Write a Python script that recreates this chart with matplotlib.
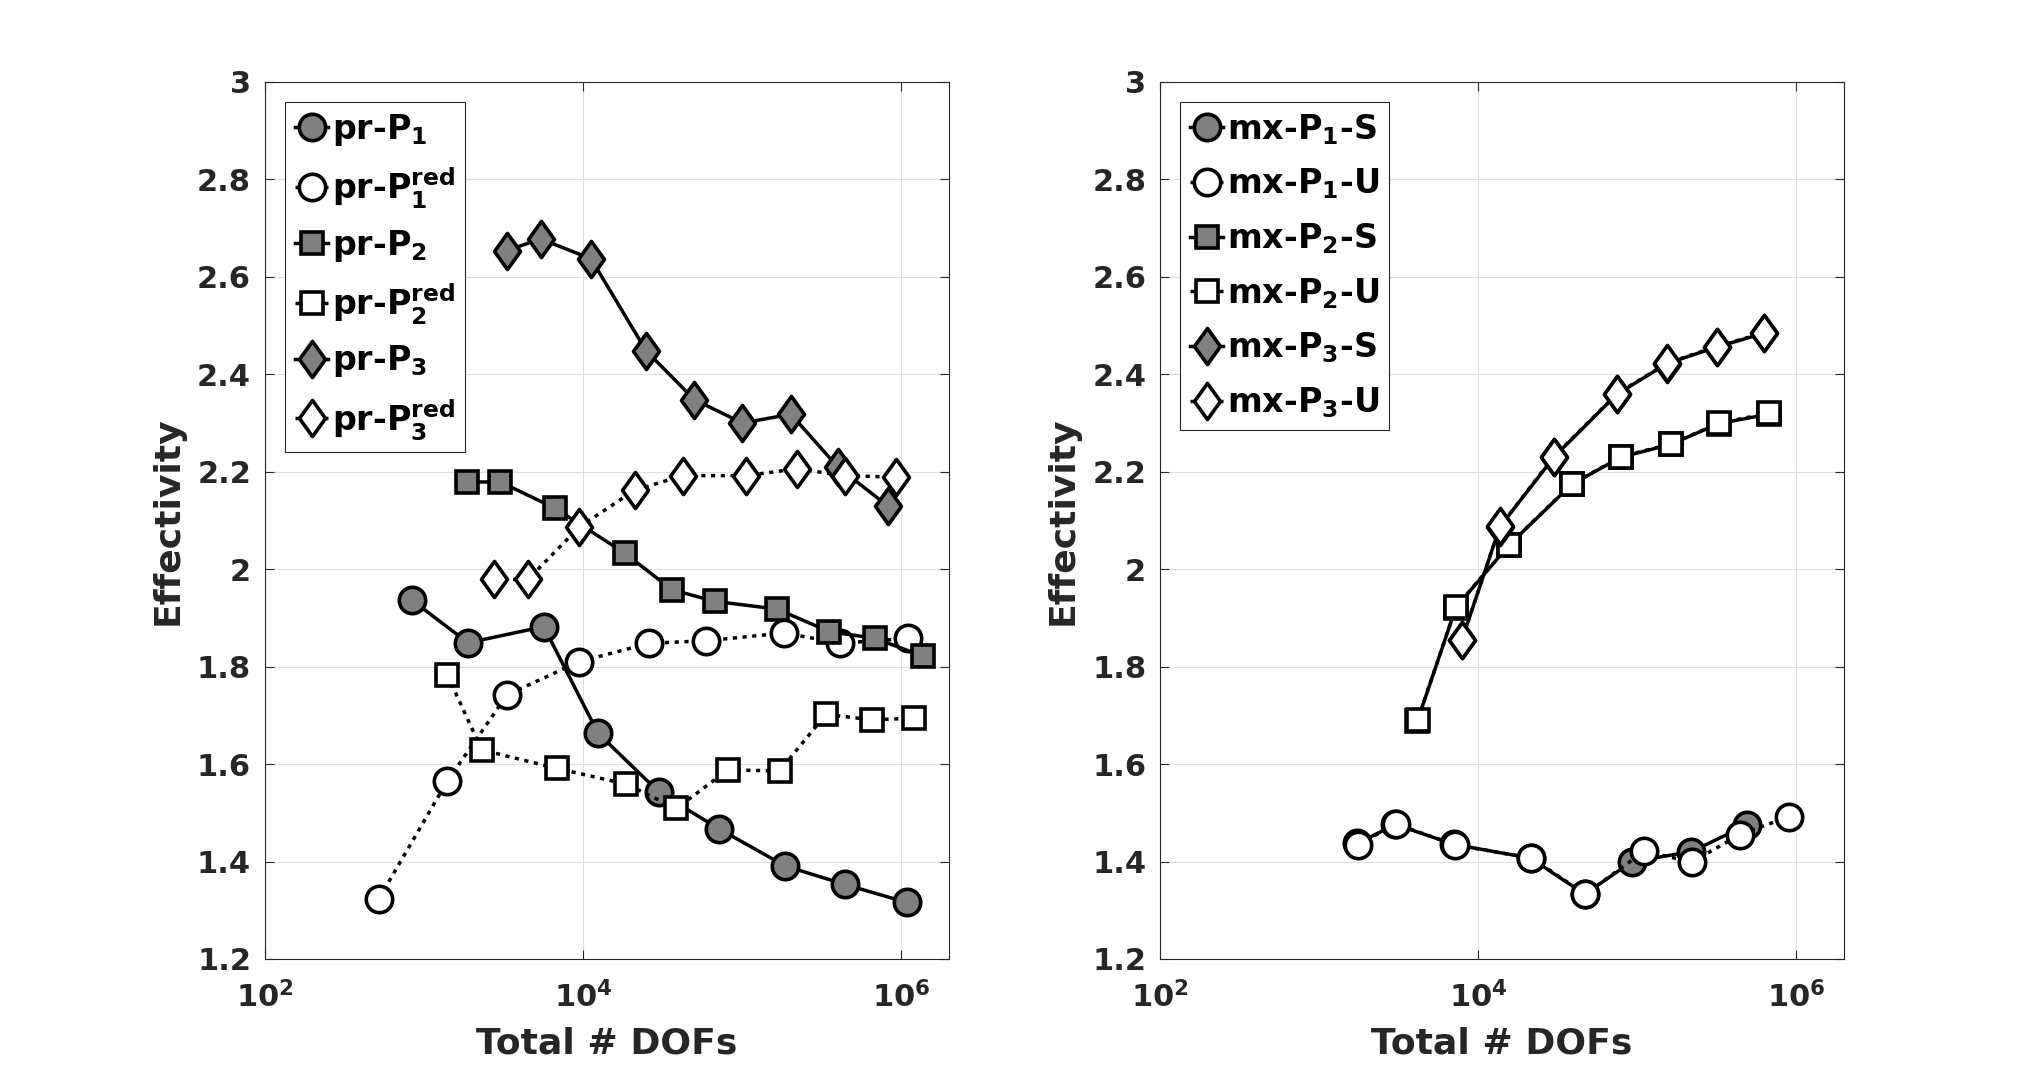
import numpy as np
import matplotlib
matplotlib.use('Agg')
import matplotlib.pyplot as plt
from matplotlib.path import Path

matplotlib.rcParams['font.family'] = 'DejaVu Sans'
matplotlib.rcParams['font.weight'] = 'bold'
matplotlib.rcParams['mathtext.default'] = 'bf'

# ---- data ----
# left panel: primal methods
pr_p1_dofs = [845, 1892, 5675, 12470, 30200, 71800, 186600, 443600, 1089000]
pr_p1_eff = [1.936, 1.849, 1.882, 1.663, 1.542, 1.467, 1.391, 1.353, 1.316]
pr_p1red_dofs = [522, 1403, 3334, 9441, 26180, 59020, 184500, 415900, 1102000]
pr_p1red_eff = [1.324, 1.565, 1.742, 1.810, 1.848, 1.853, 1.869, 1.848, 1.858]
pr_p2_dofs = [1879, 3020, 6683, 18320, 36220, 67300, 167100, 353200, 690200, 1384000]
pr_p2_eff = [2.179, 2.179, 2.125, 2.033, 1.958, 1.934, 1.918, 1.872, 1.858, 1.821]
pr_p2red_dofs = [1403, 2312, 6902, 18660, 38730, 81660, 172600, 337300, 654600, 1216000]
pr_p2red_eff = [1.783, 1.629, 1.591, 1.559, 1.509, 1.588, 1.586, 1.702, 1.691, 1.694]
pr_p3_dofs = [3334, 5420, 11250, 25000, 50230, 100700, 203200, 402700, 833700]
pr_p3_eff = [2.654, 2.678, 2.637, 2.448, 2.348, 2.300, 2.318, 2.209, 2.129]
pr_p3red_dofs = [2742, 4519, 9441, 21130, 42660, 105900, 221300, 443600, 924700]
pr_p3red_eff = [1.979, 1.979, 2.086, 2.162, 2.192, 2.192, 2.206, 2.192, 2.189]

# right panel: mixed methods
mx_p1s_dofs = [1738, 3020, 7079, 21380, 46770, 93330, 218800, 489800]
mx_p1s_eff = [1.437, 1.476, 1.435, 1.407, 1.333, 1.400, 1.420, 1.475]
mx_p1u_dofs = [1750, 3041, 7178, 21680, 47320, 110900, 221300, 441600, 901600]
mx_p1u_eff = [1.434, 1.477, 1.434, 1.407, 1.333, 1.421, 1.399, 1.455, 1.492]
mx_p2s_dofs = [4160, 7250, 15600, 38800, 79400, 162500, 328000, 671000]
mx_p2s_eff = [1.689, 1.921, 2.049, 2.174, 2.230, 2.256, 2.299, 2.318]
mx_p2u_dofs = [4180, 7280, 15670, 38900, 79600, 162900, 328900, 673000]
mx_p2u_eff = [1.691, 1.923, 2.050, 2.175, 2.231, 2.257, 2.300, 2.320]
mx_p3s_dofs = [7900, 13720, 30000, 74600, 154400, 316000, 626000]
mx_p3s_eff = [1.854, 2.087, 2.230, 2.359, 2.422, 2.456, 2.484]
mx_p3u_dofs = [7910, 13740, 30000, 74650, 154500, 316200, 626600]
mx_p3u_eff = [1.855, 2.088, 2.231, 2.360, 2.423, 2.457, 2.485]

pr_labels = [r'pr-$P_1$', r'pr-$P_1^{red}$', r'pr-$P_2$', r'pr-$P_2^{red}$',
             r'pr-$P_3$', r'pr-$P_3^{red}$']
mx_labels = [r'mx-$P_1$-S', r'mx-$P_1$-U', r'mx-$P_2$-S', r'mx-$P_2$-U',
             r'mx-$P_3$-S', r'mx-$P_3$-U']

x_ticks = [1e2, 1e4, 1e6]
x_tick_labels = [r'$10^{2}$', r'$10^{4}$', r'$10^{6}$']
y_ticks = [1.2, 1.4, 1.6, 1.8, 2.0, 2.2, 2.4, 2.6, 2.8, 3.0]
y_tick_labels = ['1.2', '1.4', '1.6', '1.8', '2', '2.2', '2.4', '2.6', '2.8', '3']

# matlab-like diamond
diamond = Path([(0, 1), (0.72, 0), (0, -1), (-0.72, 0), (0, 1)],
               [Path.MOVETO, Path.LINETO, Path.LINETO, Path.LINETO, Path.CLOSEPOLY])

gray = '#808080'
dark = '#262626'
dotted = (0, (1.2, 1.6))
lw = 2.5
mew = 2.6

styles = [
    dict(marker='o', ms=19, mfc=gray, ls='-'),
    dict(marker='o', ms=19, mfc='white', ls=dotted),
    dict(marker='s', ms=16.5, mfc=gray, ls='-'),
    dict(marker='s', ms=16.5, mfc='white', ls=dotted),
    dict(marker=diamond, ms=26, mfc=gray, ls='-'),
    dict(marker=diamond, ms=26, mfc='white', ls=dotted),
]

fig = plt.figure(figsize=(20.33, 10.77), dpi=100)
ax1 = fig.add_axes([0.1303, 0.1096, 0.3364, 0.8143])
ax2 = fig.add_axes([0.5706, 0.1096, 0.3364, 0.8143])

pr_data = [(pr_p1_dofs, pr_p1_eff), (pr_p1red_dofs, pr_p1red_eff),
           (pr_p2_dofs, pr_p2_eff), (pr_p2red_dofs, pr_p2red_eff),
           (pr_p3_dofs, pr_p3_eff), (pr_p3red_dofs, pr_p3red_eff)]
mx_data = [(mx_p1s_dofs, mx_p1s_eff), (mx_p1u_dofs, mx_p1u_eff),
           (mx_p2s_dofs, mx_p2s_eff), (mx_p2u_dofs, mx_p2u_eff),
           (mx_p3s_dofs, mx_p3s_eff), (mx_p3u_dofs, mx_p3u_eff)]

for ax, data, labels, spacing in [(ax1, pr_data, pr_labels, 0.52),
                                  (ax2, mx_data, mx_labels, 0.6)]:
    for (x, y), st, lab in zip(data, styles, labels):
        ax.plot(x, y, color='black', lw=lw, mec='black', mew=mew,
                label=lab, **st)

    ax.set_xscale('log')
    ax.set_xlim(1e2, 2e6)
    ax.set_ylim(1.2, 3.0)
    ax.set_xticks(x_ticks)
    ax.set_xticklabels(x_tick_labels)
    ax.xaxis.set_minor_locator(matplotlib.ticker.NullLocator())
    ax.set_yticks(y_ticks)
    ax.set_yticklabels(y_tick_labels)
    ax.tick_params(direction='in', length=6.5, width=0.8, colors=dark,
                   labelsize=22, top=True, right=True)
    ax.tick_params(axis='y', pad=10)
    ax.tick_params(axis='x', pad=16)
    ax.grid(True, color='#dedede', lw=0.8)
    ax.set_axisbelow(True)
    for sp in ax.spines.values():
        sp.set_color(dark)
        sp.set_linewidth(0.8)
    ax.set_xlabel('Total # DOFs', fontsize=26, fontweight='bold', color=dark, labelpad=9)
    ax.set_ylabel('Effectivity', fontsize=26, fontweight='bold', color=dark, labelpad=9)

    leg = ax.legend(loc='upper left', bbox_to_anchor=(0.0292, 0.9772), borderaxespad=0,
                    fancybox=False, framealpha=1, edgecolor=dark,
                    prop={'weight': 'bold', 'size': 24},
                    handlelength=1.0, handletextpad=0.1, borderpad=0.3,
                    labelspacing=spacing)
    leg.get_frame().set_linewidth(0.8)

plt.savefig('out.png', dpi=100)
